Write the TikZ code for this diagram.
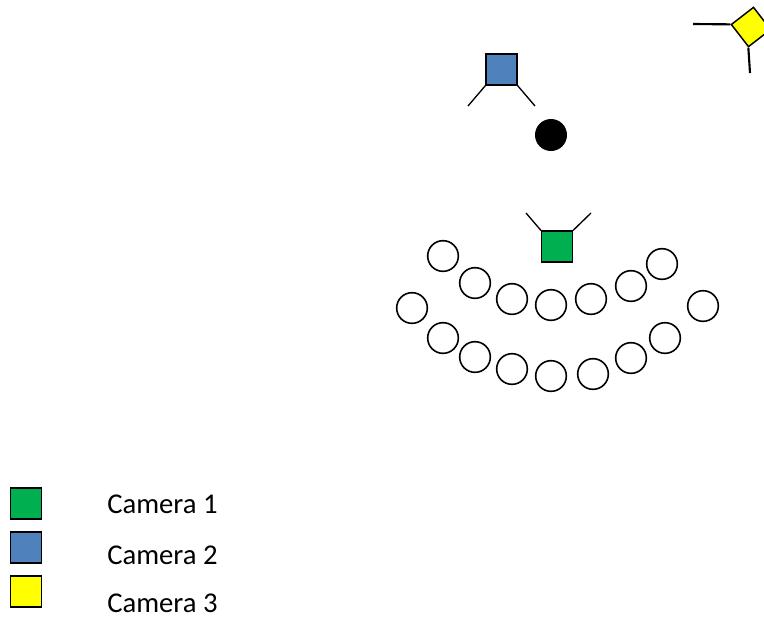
\documentclass[tikz,border=0pt]{standalone}
\usepackage{fontspec}
\setmainfont{Carlito}
\definecolor{camgreen}{HTML}{00B050}
\definecolor{camblue}{HTML}{4F81BD}
\definecolor{camyellow}{HTML}{FFFF00}
\begin{document}
\begin{tikzpicture}[x=0.75pt,y=-0.75pt,
  cam/.style={draw=black,line width=1.1pt,minimum size=23pt,inner sep=0pt,rectangle},
  seat/.style={circle,draw=black,line width=1.2pt,minimum size=23pt,inner sep=0pt},
  leg/.style={draw=black,line width=1pt},
  yleg/.style={draw=black,line width=1.6pt},
  caption/.style={anchor=base west,inner sep=0pt,font=\fontsize{21.5}{25}\selectfont}]
\useasboundingbox (0,0) rectangle (764,622);

% camera 2 with its two view lines, and the subject in front of it
\node[cam,fill=camblue] (c2) at (501.5,69.5) {};
\coordinate (c2l) at (468,106);
\coordinate (c2r) at (535,106);
\draw[leg] (c2.south west) -- (c2l);
\draw[leg] (c2.south east) -- (c2r);
\node[circle,fill=black,minimum size=24pt,inner sep=0pt] (subject) at (551,135) {};

% camera 3, turned, at the top right corner
\node[cam,fill=camyellow,minimum size=21pt,rotate=37.7] (c3) at (751,27) {};
\coordinate (c3l) at (693,24);
\coordinate (c3d) at (750,73);
\draw[yleg] (c3.north west) -- (c3l);
\draw[yleg] (c3.south west) -- (c3d);

% camera 1 facing the audience
\node[cam,fill=camgreen] (c1) at (557,246.5) {};
\coordinate (c1l) at (526,213);
\coordinate (c1r) at (591,213);
\draw[leg] (c1.north west) -- (c1l);
\draw[leg] (c1.north east) -- (c1r);

% audience seats, front row
\node[seat] (a1) at (443,256) {};
\node[seat] (a2) at (475,283) {};
\node[seat] (a3) at (512,299) {};
\node[seat] (a4) at (551,305) {};
\node[seat] (a5) at (591,299) {};
\node[seat] (a6) at (631,286) {};
\node[seat] (a7) at (662,264) {};
% seats at both ends
\node[seat] (e1) at (412,308) {};
\node[seat] (e2) at (703,306) {};
% back row
\node[seat] (b1) at (443,338) {};
\node[seat] (b2) at (475,357) {};
\node[seat] (b3) at (512,369) {};
\node[seat] (b4) at (551,376) {};
\node[seat] (b5) at (593,374) {};
\node[seat] (b6) at (631,358) {};
\node[seat] (b7) at (665,338) {};

% legend
\node[cam,fill=camgreen] (k1) at (26,503.5) {};
\node[cam,fill=camblue] (k2) at (26,547.5) {};
\node[cam,fill=camyellow] (k3) at (26,591.5) {};
\node[caption] (t1) at (107,513) {Camera 1};
\node[caption] (t2) at (107,564) {Camera 2};
\node[caption] (t3) at (107,612) {Camera 3};
\end{tikzpicture}
\end{document}
